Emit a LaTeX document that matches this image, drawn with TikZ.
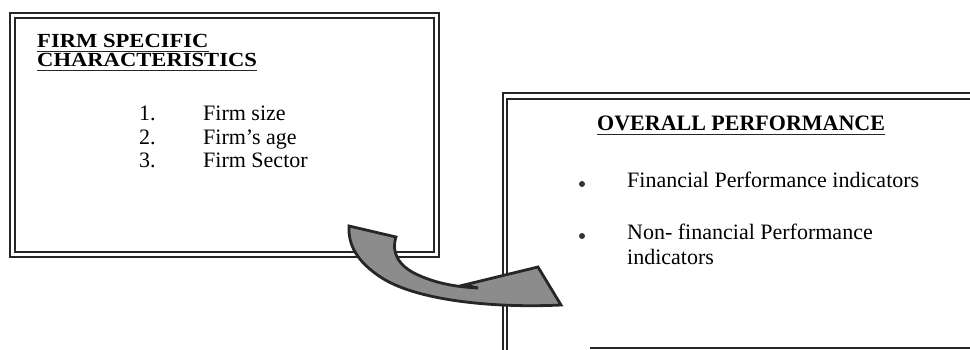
\documentclass[tikz,border=0pt]{standalone}
\usepackage{fontspec}
\setmainfont{Liberation Serif}
\newfontfamily\widebold[FakeStretch=1.13]{Liberation Serif Bold}
\begin{document}
\begin{tikzpicture}[x=1pt,y=-1pt,
  frame/.style={draw=black!85,line width=1.6pt},
  txt/.style={anchor=base west,inner sep=0pt,font=\fontsize{22}{24}\selectfont},
  ttl/.style={txt,font=\fontsize{22}{24}\selectfont\bfseries},
  lttl/.style={txt,font=\fontsize{20}{22}\selectfont\widebold},
  uline/.style={draw=black!85,line width=1.1pt},
  dot/.style={circle,fill=black!80,inner sep=0pt,minimum size=6pt},
  bigarrow/.style={fill=black!45,draw=black!85,line width=2.8pt,line join=miter}]
\useasboundingbox (0,0) rectangle (970,350);
% left box (double frame)
\draw[frame] (10,13) rectangle (439,257);
\draw[frame] (15,18) rectangle (434,252);
% right box (double frame, cut off at right)
\draw[frame] (503,355) -- (503,93) -- (975,93);
\draw[frame] (507,355) -- (507,99) -- (975,99);
\draw[frame,line width=1.2pt] (590,348) -- (975,348);
% left text
\node[lttl] (t1) at (37,48) {FIRM SPECIFIC};
\node[lttl] (t2) at (37,67) {CHARACTERISTICS};
\draw[uline] ([yshift=-3.5pt]t1.base west) -- ([yshift=-3.5pt]t1.base east);
\draw[uline] ([yshift=-3.5pt]t2.base west) -- ([yshift=-3.5pt]t2.base east);
\node[txt] (n1) at (139,121) {1.};
\node[txt] (i1) at (203,121) {Firm size};
\node[txt] (n2) at (139,145) {2.};
\node[txt] (i2) at (203,145) {Firm’s age};
\node[txt] (n3) at (139,168) {3.};
\node[txt] (i3) at (203,168) {Firm Sector};
% right text
\node[ttl] (t3) at (597,131) {OVERALL PERFORMANCE};
\draw[uline] ([yshift=-3.5pt]t3.base west) -- ([yshift=-3.5pt]t3.base east);
\node[dot] (b1) at (582,184) {};
\node[txt] (f1) at (627,188) {Financial Performance indicators};
\node[dot] (b2) at (582,236) {};
\node[txt] (f2) at (627,240) {Non- financial Performance};
\node[txt] (f3) at (627,265) {indicators};
% curved block arrow
\draw[bigarrow] (349,226) -- (396,237)
  .. controls (391,252) and (398,266) .. (418,275)
  .. controls (438,284) and (458,287) .. (478,288)
  -- (464,285) -- (538,267) -- (561,305)
  .. controls (500,308) and (420,302) .. (382,278)
  .. controls (357,262) and (348,245) .. (349,226) -- cycle;
\end{tikzpicture}
\end{document}
